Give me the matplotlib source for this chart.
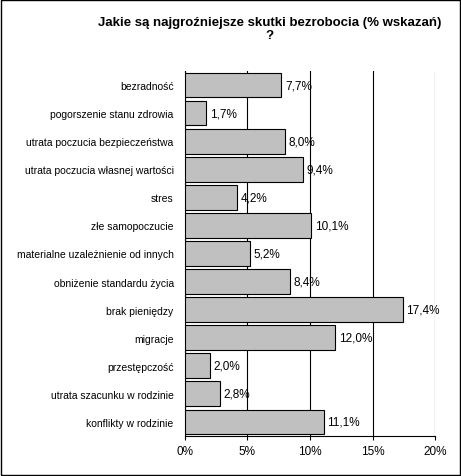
import matplotlib
matplotlib.use("Agg")
import matplotlib.pyplot as plt
from matplotlib.patches import Rectangle

plt.rcParams['font.family'] = ['Liberation Sans', 'DejaVu Sans']

categories = ["bezradność", "pogorszenie stanu zdrowia", "utrata poczucia bezpieczeństwa",
              "utrata poczucia własnej wartości", "stres", "złe samopoczucie",
              "materialne uzależnienie od innych", "obniżenie standardu życia",
              "brak pieniędzy", "migracje", "przestępczość",
              "utrata szacunku w rodzinie", "konflikty w rodzinie"]
values = [7.7, 1.7, 8.0, 9.4, 4.2, 10.1, 5.2, 8.4, 17.4, 12.0, 2.0, 2.8, 11.1]
xticks = [0, 5, 10, 15, 20]
xticklabels = ["0%", "5%", "10%", "15%", "20%"]

fig = plt.figure(figsize=(4.61, 4.77), dpi=100)
fig.patches.append(Rectangle((0.002, 0.002), 0.996, 0.996, transform=fig.transFigure,
                             fill=False, edgecolor='black', linewidth=1))
ax = fig.add_axes([0.401, 0.084, 0.543, 0.765])
y = list(range(len(categories)))
ax.barh(y, values, height=0.88, color='#C0C0C0', edgecolor='black', linewidth=0.8, zorder=3)
for yi, v in zip(y, values):
    ax.text(v + 0.3, yi, f"{v:.1f}%".replace('.', ','), va='center', ha='left', fontsize=8.5, zorder=4)
ax.set_xlim(0, 20)
ax.set_ylim(len(categories) - 0.5, -0.5)
ax.set_xticks(xticks)
ax.set_xticklabels(xticklabels, fontsize=8.5)
ax.set_yticks(y)
ax.set_yticklabels(categories, fontsize=7.5)
ax.grid(axis='x', color='black', linewidth=0.8, zorder=0)
for s in ['top', 'right']:
    ax.spines[s].set_visible(False)
ax.tick_params(axis='y', length=0, pad=8)
ax.tick_params(axis='x', length=3)
fig.text(0.585, 0.965, "Jakie są najgroźniejsze skutki bezrobocia (% wskazań)\n?",
         ha='center', va='top', fontsize=9.5, fontweight='bold', linespacing=1.1)
fig.savefig("out.png", dpi=100)
